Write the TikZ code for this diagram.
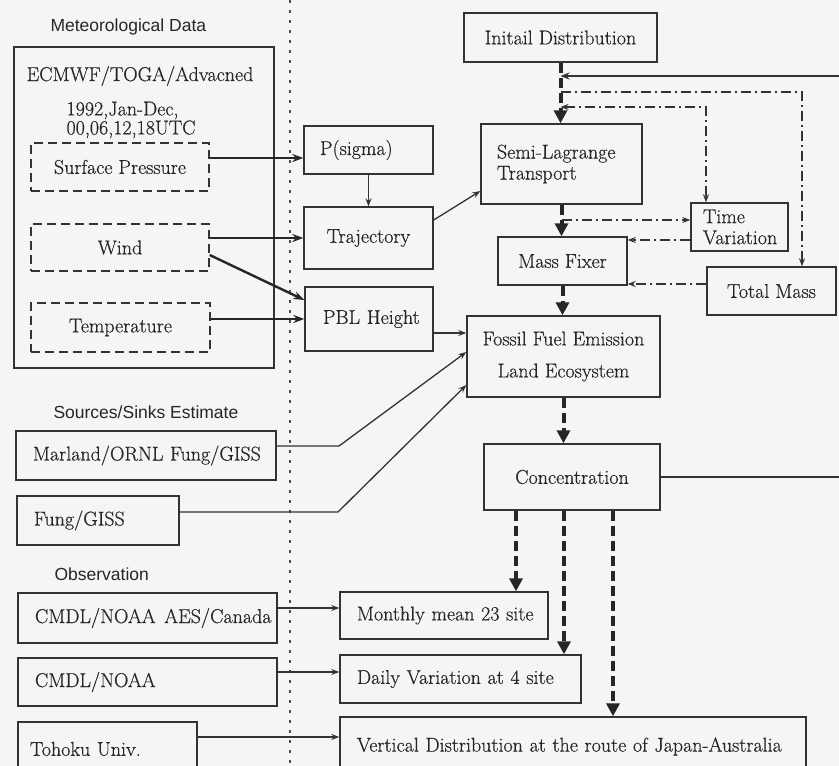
\documentclass[tikz,border=0pt]{standalone}
\usepackage{fontspec}
\setmainfont{Latin Modern Roman}[FakeBold=0.5]
\newfontfamily\headfont{Liberation Sans}
\usetikzlibrary{arrows.meta}

\begin{document}
\begin{tikzpicture}[x=1pt,y=-1pt,
  every node/.style={font=\fontsize{20}{21}\selectfont, text=black!85},
  box/.style={draw=black!80, line width=1.4pt, inner sep=0pt},
  dbox/.style={box, dash pattern=on 9pt off 5pt},
  lbox/.style 2 args={box, align=left, text width=#1, inner xsep=#2},
  head/.style={anchor=west, font=\headfont\fontsize{17.5}{20}\selectfont},
  sepline/.style={draw=black!70, line width=1.4pt, dash pattern=on 2.5pt off 7.5pt},
  lite/.style={draw=black!80, line width=1.3pt, -{Stealth[length=8pt,width=6pt]}},
  bold/.style={draw=black!85, line width=2.4pt, -{Stealth[length=11pt,width=8pt]}},
  flow/.style={draw=black!85, line width=4pt, dash pattern=on 10pt off 5pt,
    -{Triangle[length=13pt,width=13pt]}},
  chain/.style={draw=black!80, line width=1.2pt, dash pattern=on 10pt off 4pt on 2pt off 4pt},
  back/.style={draw=black!80, line width=1.7pt, -{Stealth[length=9pt,width=7pt]}}]

\fill[black!4] (0,0) rectangle (839,766);
\useasboundingbox (0,0) rectangle (839,766);

\draw[sepline] (290,0) -- (290,766);

% input data
\node[head] (metlabel) at (47,27) {Meteorological Data};
\node[box, minimum width=260pt, minimum height=321pt] (met) at (144,207.5) {};
\node (ecmwf) at (140,76) {ECMWF/TOGA/Advacned};
\node[anchor=west, align=left, font=\fontsize{20}{19}\selectfont] (period) at (63,120)
  {1992,Jan-Dec,\\00,06,12,18UTC};
\node[dbox, minimum width=178pt, minimum height=48pt] (sp) at (120,167) {Surface Pressure};
\node[dbox, minimum width=178pt, minimum height=47pt] (wind) at (120,247.5) {Wind};
\node[dbox, minimum width=179pt, minimum height=49pt] (temp) at (120.5,327.5) {Temperature};

\node[head] (srclabel) at (50,412) {Sources/Sinks Estimate};
\node[lbox={226pt}{17pt}, minimum height=49pt] (marland) at (146,455.5) {Marland/ORNL~Fung/GISS};
\node[lbox={128pt}{17pt}, minimum height=49pt] (fung) at (98,520.5) {Fung/GISS};

\node[head] (obslabel) at (51,574) {Observation};
\node[lbox={225pt}{17pt}, minimum height=50pt] (cmdla) at (147.5,618) {CMDL/NOAA~\kern2pt AES/Canada};
\node[lbox={225pt}{17pt}, minimum height=48pt] (cmdl) at (147.5,682) {CMDL/NOAA};
\node[lbox={155pt}{12pt}, minimum height=54pt] (tohoku) at (107.5,749) {Tohoku~Univ.};

% model
\node[lbox={97pt}{16pt}, minimum height=48pt] (psig) at (368.5,150) {P(sigma)};
\node[box, minimum width=129pt, minimum height=62pt] (traj) at (368.5,238) {Trajectory};
\node[lbox={92pt}{18pt}, minimum height=64pt] (pbl) at (369,319) {PBL~Height};

\node[box, minimum width=193pt, minimum height=49pt] (init) at (560.5,37.5) {Initail Distribution};
\node[lbox={129pt}{16pt}, minimum height=80pt] (semi) at (561.5,164) {Semi-Lagrange\\Transport};
\node[lbox={73pt}{12pt}, minimum height=48pt] (timev) at (739.5,227) {Time\\Variation};
\node[box, minimum width=129pt, minimum height=48pt] (mass) at (562.5,261) {Mass Fixer};
\node[box, minimum width=129pt, minimum height=48pt] (total) at (771.5,291) {Total Mass};
\node[box, align=center, minimum width=193pt, minimum height=81pt] (fossil) at (563.5,356.5)
  {Fossil Fuel Emission\\[11pt]Land Ecosystem};
\node[box, minimum width=176pt, minimum height=66pt] (conc) at (572,477) {Concentration};

% output
\node[lbox={174pt}{17pt}, minimum height=47pt] (monthly) at (444,615.5) {Monthly~mean~23~site};
\node[lbox={207pt}{17pt}, minimum height=48pt] (daily) at (460.5,679) {Daily Variation at 4 site};
\node[lbox={432pt}{17pt}, minimum height=59pt] (vert) at (573,746.5)
  {Vertical Distribution at the route of Japan-Australia};

% connectors
\draw[bold] (sp.east |- 0,158) -- (psig.west |- 0,158);
\draw[bold] (wind.east |- traj.west) -- (traj.west);
\draw[bold] (wind.east |- 0,255) -- (pbl.west |- 0,300);
\draw[bold] (temp.east |- pbl.west) -- (pbl.west);
\draw[lite] (psig.south) -- (traj.north);
\draw[lite] (traj.east |- 0,220) -- (semi.west |- 0,191);
\draw[lite] (pbl.east |- 0,333) -- (fossil.west |- 0,333);
\draw[lite] (marland.east |- 0,446) -- (339,446) -- (fossil.west |- 0,352);
\draw[lite] (fung.east |- 0,512) -- (338,512) -- (fossil.west |- 0,385);

\coordinate (fbcorner) at (848,76);
\coordinate (tmcorner) at (802,92);
\coordinate (tvcorner) at (706,107);
\draw[back] (conc.east) -- (conc.east -| fbcorner) -- (fbcorner) -- (init.south |- fbcorner);
\draw[chain, -{Stealth[length=8pt,width=6pt]}] (init.south |- tmcorner) -- (tmcorner) -- (tmcorner |- total.north);
\draw[chain, {Stealth[length=8pt,width=6pt]}-{Stealth[length=8pt,width=6pt]}]
  (init.south |- tvcorner) -- (tvcorner) -- (tvcorner |- timev.north);
\draw[chain, -{Stealth[length=8pt,width=6pt]}] (semi.south |- 0,220) -- (timev.west |- 0,220);
\draw[chain, -{Stealth[length=8pt,width=6pt]}] (timev.west |- 0,240) -- (mass.east |- 0,240);
\draw[chain, -{Stealth[length=8pt,width=6pt]}] (total.west |- 0,284) -- (mass.east |- 0,284);

\draw[flow] (init.south) -- (init.south |- semi.north);
\draw[flow] (semi.south) -- (semi.south |- mass.north);
\draw[flow] (mass.south) -- (mass.south |- fossil.north);
\draw[flow] (fossil.south) -- (fossil.south |- conc.north);

\coordinate (out1) at ([xshift=-56pt]conc.south);
\coordinate (out2) at ([xshift=-8pt]conc.south);
\coordinate (out3) at ([xshift=41pt]conc.south);
\draw[flow] (out1) -- (out1 |- monthly.north);
\draw[flow] (out2) -- (out2 |- daily.north);
\draw[flow] (out3) -- (out3 |- vert.north);

\draw[lite] (cmdla.east |- 0,608) -- (monthly.west |- 0,608);
\draw[lite] (cmdl.east |- 0,672) -- (daily.west |- 0,672);
\draw[lite] (tohoku.east |- 0,737) -- (vert.west |- 0,737);

\end{tikzpicture}
\end{document}
